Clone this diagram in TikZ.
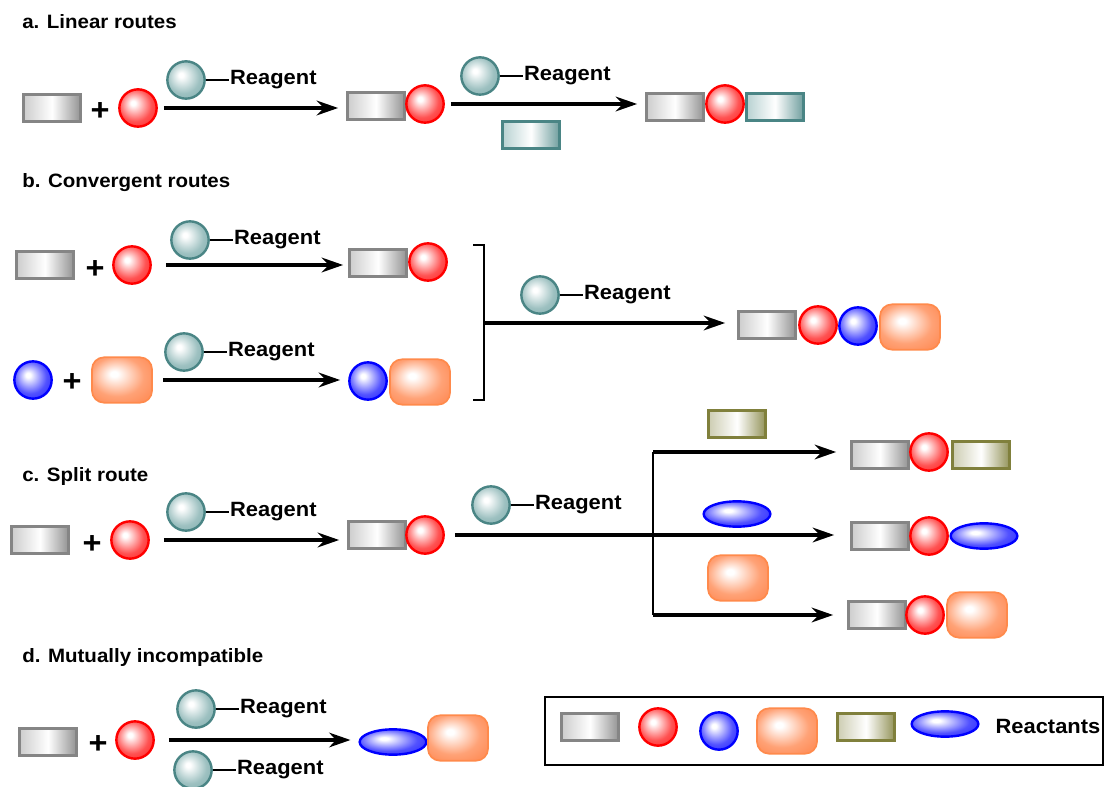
\documentclass[tikz,border=0pt]{standalone}
\usepackage{fontspec}
\setmainfont[FakeStretch=1.06]{Liberation Sans}
\usetikzlibrary{arrows.meta,calc,positioning,shapes.geometric}
\definecolor{tealbd}{HTML}{4A8585}
\definecolor{tealfl}{HTML}{6FA3A3}
\definecolor{olivebd}{HTML}{80803C}
\definecolor{orangebd}{HTML}{FF8A4C}
\definecolor{orangefl}{HTML}{FF7636}
\definecolor{graybd}{HTML}{858585}
\colorlet{hicol}{red}
\pgfdeclareradialshading[hicol]{hiball}{\pgfpoint{-7bp}{7bp}}{%
  color(0bp)=(white); color(3bp)=(white); color(22bp)=(hicol!68!white); color(31bp)=(hicol!80!white); color(50bp)=(hicol!80!white)}
\tikzset{
  hi/.code={\colorlet{hicol}{#1}\tikzset{shading=hiball}},
  blk/.style={rectangle, minimum width=43pt, minimum height=20pt, inner sep=0pt, line width=1.8pt},
  graybox/.style={blk, draw=graybd, left color=gray!40, right color=gray!85, middle color=white},
  tealbox/.style={blk, draw=tealbd, left color=tealfl!50, right color=tealbd!80, middle color=white},
  olivebox/.style={blk, draw=olivebd, left color=olivebd!40, right color=olivebd!85, middle color=white},
  redball/.style={circle, minimum size=28pt, inner sep=0pt, draw=red, line width=1.8pt, hi=red},
  blueball/.style={redball, draw=blue, hi=blue},
  reag/.style={circle, minimum size=28pt, inner sep=0pt, draw=tealbd, line width=1.8pt, hi=tealfl},
  orangebox/.style={rectangle, rounded corners=9pt, minimum width=45pt, minimum height=34pt, inner sep=0pt, draw=orangebd, line width=1.3pt, hi=orangefl},
  blueoval/.style={ellipse, minimum width=50pt, minimum height=19pt, inner sep=0pt, draw=blue, line width=1.8pt, hi=blue},
  plus/.style={inner sep=0pt, font=\bfseries\fontsize{23}{23}\selectfont},
  ttl/.style={anchor=west, inner sep=0pt, font=\bfseries\fontsize{14.5}{16}\selectfont},
  rgtxt/.style={inner sep=1pt, font=\bfseries\fontsize{15.5}{18}\selectfont},
  rxn/.style={line width=2.4pt, -{Stealth[length=16pt,width=11pt]}}
}
\newcommand\reagent[2]{%
  \node[reag] (#1) at (#2) {};
  \node[rgtxt, right=17pt of #1] (#1t) {Reagent};
  \draw[line width=1.2pt] (#1.east) -- (#1t.west);}
\begin{document}
\begin{tikzpicture}[x=0.75pt, y=-0.75pt]
  \useasboundingbox (0,0) rectangle (1105,787);
  % a. linear
  \node[ttl] (ta) at (22,22) {a. Linear routes};
  \node[graybox] (a1g) at (52,108) {};
  \node[plus] (a1p) at (100,112) {+};
  \node[redball] (a1r) at (138,108) {};
  \reagent{a1x}{186,80}
  \node[graybox] (a2g) at (376,106) {};
  \node[redball] (a2r) at (425,104) {};
  \draw[rxn] ($(a1r.east)+(6,0)$) -- ($(a1r.east -| a2g.west)+(-8,0)$);
  \reagent{a2x}{480,76}
  \node[tealbox] (a2t) at (531,135) {};
  \node[graybox] (a3g) at (675,107) {};
  \node[redball] (a3r) at (725,104) {};
  \node[tealbox] (a3t) at (775,107) {};
  \draw[rxn] ($(a2r.east)+(6,0)$) -- ($(a2r.east -| a3g.west)+(-8,0)$);
  % b. convergent
  \node[ttl] (tb) at (22,183) {b. Convergent routes};
  \node[graybox] (b1g) at (45,265) {};
  \node[plus] (b1p) at (95,270) {+};
  \node[redball] (b1r) at (132,265) {};
  \reagent{b1x}{190,240}
  \node[graybox] (b2g) at (378,263) {};
  \node[redball] (b2r) at (428,262) {};
  \draw[rxn] ($(b1r.east)+(14,0)$) -- ($(b1r.east -| b2g.west)+(-5,0)$);
  \node[blueball] (b3b) at (33,380) {};
  \node[plus] (b3p) at (72,383) {+};
  \node[orangebox] (b3o) at (122,380) {};
  \reagent{b3x}{184,352}
  \node[blueball] (b4b) at (368,381) {};
  \node[orangebox] (b4o) at (420,382) {};
  \draw[rxn] ($(b3o.east)+(10,0)$) -- ($(b3o.east -| b4b.west)+(-8,0)$);
  \coordinate (bkt) at (484,245);
  \coordinate (bkb) at (484,400);
  \coordinate (bkm) at (484,323);
  \draw[line width=1.3pt] ($(bkt)+(-11,0)$) -- (bkt) -- (bkb) -- ++(-11,0);
  \reagent{b5x}{540,295}
  \node[graybox] (b5g) at (767,325) {};
  \node[redball] (b5r) at (818,325) {};
  \node[blueball] (b5b) at (858,326) {};
  \node[orangebox] (b5o) at (910,327) {};
  \draw[rxn] (bkm) -- ($(bkm -| b5g.west)+(-12,0)$);
  % c. split
  \node[ttl] (tc) at (22,476) {c. Split route};
  \node[graybox] (c1g) at (40,540) {};
  \node[plus] (c1p) at (92,545) {+};
  \node[redball] (c1r) at (130,540) {};
  \reagent{c1x}{186,512}
  \node[graybox] (c2g) at (377,535) {};
  \node[redball] (c2r) at (425,535) {};
  \draw[rxn] ($(c1r.east)+(14,0)$) -- ($(c1r.east -| c2g.west)+(-8,0)$);
  \reagent{c2x}{491,505}
  \node[olivebox] (c3v) at (737,424) {};
  \node[blueoval] (c4e) at (737,514) {};
  \node[orangebox] (c5o) at (738,578) {};
  \node[graybox] (c3g) at (880,455) {};
  \node[redball] (c3r) at (929,452) {};
  \node[olivebox] (c3w) at (981,455) {};
  \node[graybox] (c4g) at (880,536) {};
  \node[redball] (c4r) at (929,536) {};
  \node[blueoval] (c4f) at (984,536) {};
  \node[graybox] (c5g) at (877,615) {};
  \node[redball] (c5r) at (925,615) {};
  \node[orangebox] (c5p) at (977,615) {};
  \coordinate (cst) at (653,452);
  \coordinate (csb) at (653,615);
  \draw[line width=1.8pt] (cst) -- (csb);
  \draw[rxn] ($(c2r.east)+(10,0)$) -- ($(c2r.east -| c4g.west)+(-16,0)$);
  \draw[rxn] (cst) -- ($(cst -| c3g.west)+(-14,0)$);
  \draw[rxn] (csb) -- ($(csb -| c5g.west)+(-14,0)$);
  % d. incompatible
  \node[ttl] (td) at (22,657) {d. Mutually incompatible};
  \node[graybox] (d1g) at (48,742) {};
  \node[plus] (d1p) at (98,745) {+};
  \node[redball] (d1r) at (135,740) {};
  \reagent{d1x}{196,709}
  \reagent{d1y}{193,770}
  \node[blueoval] (d2e) at (393,742) {};
  \node[orangebox] (d2o) at (458,738) {};
  \draw[rxn] ($(d1r.east)+(14,0)$) -- ($(d1r.east -| d2e.west)+(-8,0)$);
  % legend
  \draw[line width=1.4pt] (545,697) rectangle (1103,765);
  \node[graybox] (lg) at (590,727) {};
  \node[redball] (lr) at (658,727) {};
  \node[blueball] (lb) at (719,731) {};
  \node[orangebox] (lo) at (787,731) {};
  \node[olivebox] (lv) at (866,727) {};
  \node[blueoval] (le) at (945,724) {};
  \node[rgtxt, anchor=west] (lt) at (994,726) {Reactants};
\end{tikzpicture}
\end{document}
